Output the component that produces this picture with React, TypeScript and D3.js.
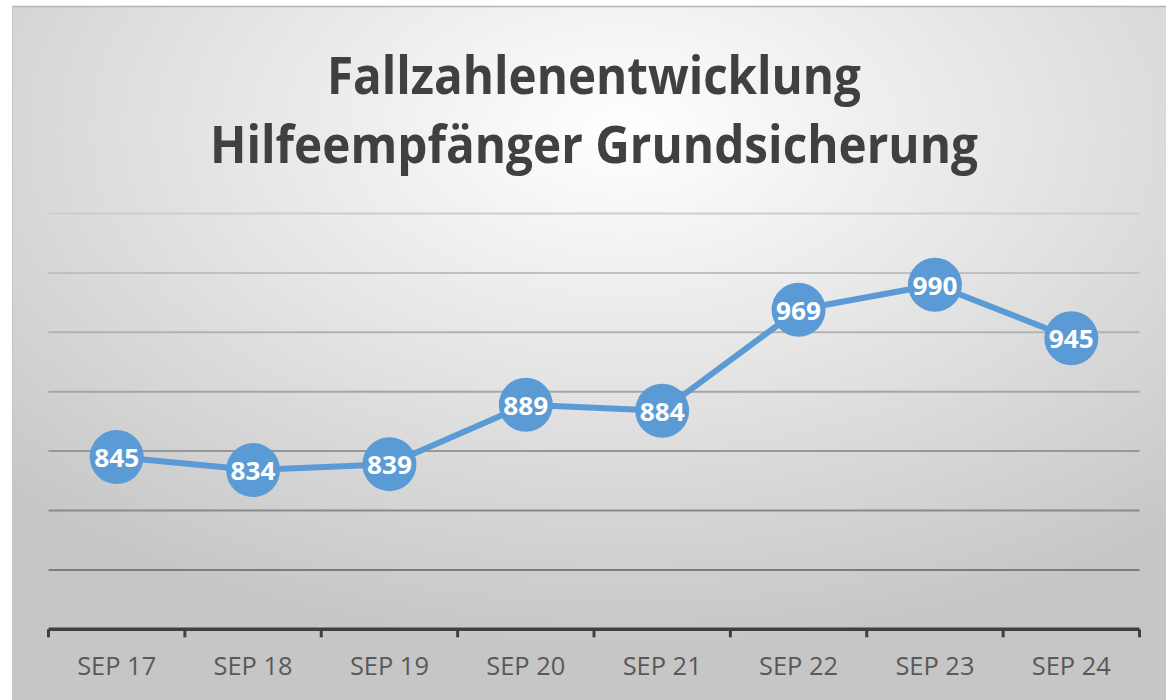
import React from "react";
import * as d3 from "d3";

const categories = ["SEP 17", "SEP 18", "SEP 19", "SEP 20", "SEP 21", "SEP 22", "SEP 23", "SEP 24"];
const values = [845, 834, 839, 889, 884, 969, 990, 945];
const yTicks = [700, 750, 800, 850, 900, 950, 1000, 1050];
const titleLines = ["Fallzahlenentwicklung", "Hilfeempfänger Grundsicherung"];

const W = 1166;
const H = 700;

export default function App() {
  const x = d3.scaleBand<string>().domain(categories).range([48.5, 1139.5]).padding(0);
  const y = d3.scaleLinear().domain([700, 1050]).range([629.3, 213.5]);
  const line = d3
    .line<number>()
    .x((_, i) => (x(categories[i]) as number) + x.bandwidth() / 2)
    .y((d) => y(d));
  const gridColor = d3.scaleLinear<string>().domain([1050, 750]).range(["#cdcdcd", "#7c7c7c"]);
  const boundaries = d3.range(categories.length + 1).map((i) => 48.5 + i * x.bandwidth());

  return (
    <svg
      width={W}
      height={H}
      style={{ position: "absolute", left: 0, top: 0 }}
      fontFamily="'Open Sans', sans-serif"
    >
      <defs>
        <radialGradient id="bg" cx="0.53" cy="0.18" r="0.75" fx="0.53" fy="0.18">
          <stop offset="0" stopColor="#ffffff" />
          <stop offset="0.45" stopColor="#e6e6e6" />
          <stop offset="1" stopColor="#c6c6c6" />
        </radialGradient>
      </defs>
      <rect x={0} y={0} width={W} height={H} fill="#ffffff" />
      <rect x={12} y={6} width={W - 12} height={H - 6} fill="url(#bg)" />
      <line x1={12} x2={W} y1={6.5} y2={6.5} stroke="#b5b5b5" strokeWidth={1.5} />
      <line x1={12.5} x2={12.5} y1={6} y2={H} stroke="#c4c4c4" strokeWidth={1} />

      <text x={594} y={94} textAnchor="middle" fontSize={52} fontWeight={700} fill="#404040"
        textLength={534} lengthAdjust="spacingAndGlyphs">
        {titleLines[0]}
      </text>
      <text x={594} y={163} textAnchor="middle" fontSize={52} fontWeight={700} fill="#404040"
        textLength={768} lengthAdjust="spacingAndGlyphs">
        {titleLines[1]}
      </text>

      {yTicks.slice(1).map((t) => (
        <line key={t} x1={48.5} x2={1139.5} y1={y(t)} y2={y(t)} stroke={gridColor(t)} strokeWidth={2} />
      ))}

      <line x1={48.5} x2={1139.5} y1={y(700)} y2={y(700)} stroke="#404040" strokeWidth={3.5} />
      {boundaries.map((b, i) => (
        <line key={i} x1={b} x2={b} y1={y(700)} y2={y(700) + 8} stroke="#404040" strokeWidth={3} />
      ))}
      {categories.map((c) => (
        <text key={c} x={(x(c) as number) + x.bandwidth() / 2} y={675} textAnchor="middle"
          fontSize={25} fill="#595959" textLength={79} lengthAdjust="spacingAndGlyphs">
          {c}
        </text>
      ))}

      <path d={line(values) || ""} fill="none" stroke="#5b9bd5" strokeWidth={6} strokeLinejoin="round" />
      {values.map((v, i) => {
        const cx = (x(categories[i]) as number) + x.bandwidth() / 2;
        const cy = y(v);
        return (
          <g key={i}>
            <circle cx={cx} cy={cy} r={27} fill="#5b9bd5" />
            <text x={cx} y={cy + 10} textAnchor="middle" fontSize={25} fontWeight={700} fill="#ffffff"
              textLength={45} lengthAdjust="spacingAndGlyphs">
              {v}
            </text>
          </g>
        );
      })}
    </svg>
  );
}
